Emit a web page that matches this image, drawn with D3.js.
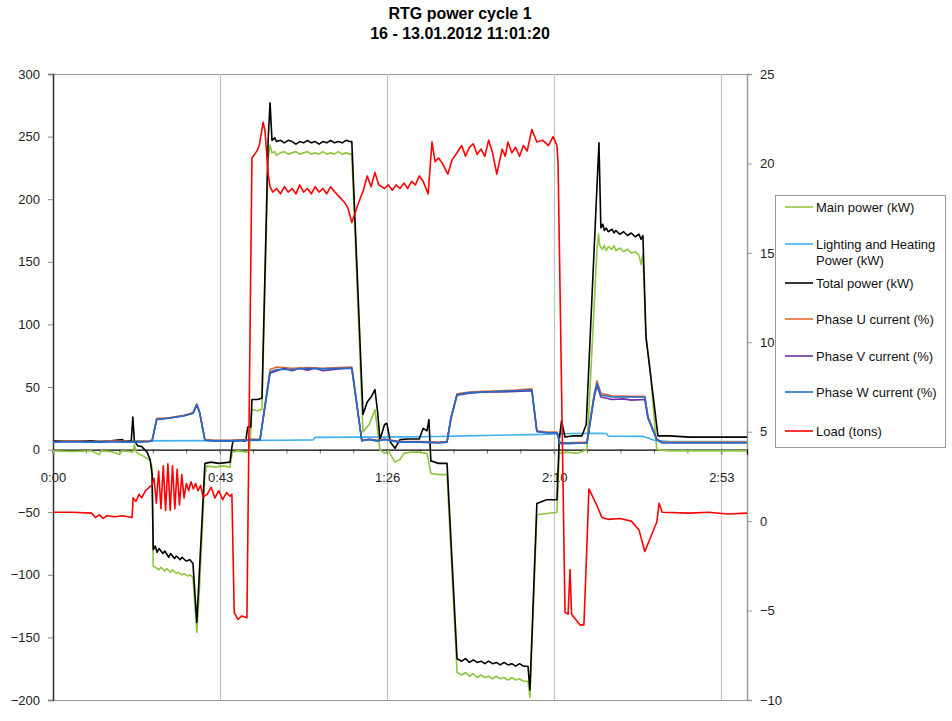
<!DOCTYPE html>
<html>
<head>
<meta charset="utf-8">
<script src="https://cdn.jsdelivr.net/npm/d3@7/dist/d3.min.js"></script>
<style>
	body{margin:0;background:#fff;}
	text{font-family:"Liberation Sans",Arial,sans-serif;}
</style>
</head>
<body>
<div id="chart"></div>
<script>
// time in seconds, values as [t, value]
var xTickValues = [0, 130/3, 260/3, 130, 520/3];
var xTickLabels = ["0:00", "0:43", "1:26", "2:10", "2:53"];
var leftTicks = [300, 250, 200, 150, 100, 50, 0, -50, -100, -150, -200];
var rightTicks = [25, 20, 15, 10, 5, 0, -5, -10];

var mainPower = [[0,-1],[5,-1.5],[10,-1],[12,-4],[12.5,-1],[15,-1.5],[17.3,-4],[17.8,-1],[20,-1.5],[20.7,-2],[21.1,4],[21.6,-2],[22,-3],[23.3,-5],[24.4,-7],[25.2,-9],[25.7,-14],[26,-93],[26.5,-94],[27.5,-96],[28,-94],[29,-97],[29.5,-95],[30.5,-98],[31,-96],[32,-99],[32.5,-98],[33.5,-100],[34,-99],[35,-101],[35.5,-100],[36.3,-102],[37.3,-146],[38,-110],[39.4,-20],[39.9,-13],[42,-14],[44,-13],[45.9,-14],[46.5,-2],[48,-1],[50.3,-2],[51,0],[51.6,32],[53,31],[54.2,32],[55.8,232],[56.3,243],[56.8,237],[57.5,238],[58,235],[59,237],[60,238],[61,236],[62,237],[63,238],[64,236],[65,237],[66,238],[67,236],[68,237],[69,236],[70,238],[71,236],[72,237],[73,236],[74,238],[75,236],[76,237],[77,236],[77.5,236],[80.4,14],[82,20],[83.5,32],[84.8,0],[86,-3],[87,-1],[88.7,-10],[90,-8],[91,-3],[93,-2],[95,-2],[97,-3],[98,-19],[100,-20],[102.2,-20],[104.8,-178],[106,-180],[107,-178],[108,-181],[109,-179],[110,-182],[111,-180],[112,-182],[113,-181],[114,-183],[115,-181],[116,-183],[117,-182],[118,-184],[119,-182],[120,-184],[121,-183],[122,-185],[123.2,-185],[123.7,-198],[125.5,-52],[128,-51],[130.7,-50],[131.3,-3],[133,-2],[136,-3],[137,-2],[138.5,0],[141.1,161],[141.5,172],[141.8,163],[142.5,160],[143,163],[143.5,159],[144,162],[145,160],[145.5,163],[146,159],[147,161],[148,158],[149,160],[150,157],[151,158],[152,155],[152.5,148],[153,156],[153.8,90],[155,60],[156.6,0],[160,-1],[165,-1],[170,-1],[175,-1],[180,-1]];

var lightPower = [[0,7],[20,7],[40,7.2],[60,7.5],[67.5,7.8],[68,9.8],[80,10],[90,10.2],[100,10.5],[107,11],[115,11.5],[125,12],[130,12.5],[135,12.8],[141,13],[143.5,12.8],[144,10.8],[153,10.6],[156,7.5],[160,6.5],[180,6.5]];

var totalPower = [[0,7],[5,6.5],[10,7],[12,6],[15,7],[18,8],[18.5,6.5],[20.3,7],[20.7,26],[21.1,7],[22,3],[23,2.5],[24.4,-2],[25.2,-8],[25.7,-20],[26,-80],[26.5,-77],[27,-82],[27.5,-79],[28.5,-83],[29,-81],[30,-86],[30.5,-83],[31.5,-87],[32,-85],[33,-88],[33.5,-86],[34.5,-89],[35.5,-88],[36.3,-91],[37.3,-138],[39.4,-11],[41,-10],[43,-11],[45.9,-10],[46.4,2],[46.7,7],[48,7.5],[50,7],[50.5,18],[51.3,18],[51.6,40],[53,40],[54.2,41],[55.8,247],[56.3,277],[56.8,247],[57.5,249],[58,246],[59,247],[60,245],[61,247],[62,246],[63,244],[64,246],[65,245],[66,247],[67,245],[68,246],[69,244],[70,246],[71,245],[72,247],[73,245],[74,246],[75,245],[76,247],[77,246],[77.5,246],[80.4,28],[81.5,38],[82.5,42],[83.5,48],[84.2,30],[84.8,8],[86,20],[86.6,21],[87.5,6],[88.7,1],[90,8],[92,8.5],[95,8.5],[96,17],[97,15],[97.5,24],[98,-9],[100,-11],[102.2,-11],[104.8,-167],[106,-169],[107,-167],[108,-170],[109,-168],[110,-170],[111,-169],[112,-171],[113,-169],[114,-171],[115,-170],[116,-172],[117,-170],[118,-172],[119,-171],[120,-173],[121,-171],[122,-173],[123.2,-173],[123.7,-192],[125.5,-43],[128,-40],[130.7,-40],[131.3,8],[131.9,23],[132.8,10],[135,11],[137.2,11],[138.3,20],[141.6,245],[142.1,177],[142.6,180],[143,175],[143.5,177],[144,174],[145,176],[145.5,173],[146,175],[147,172],[148,174],[149,171],[150,173],[151,170],[152,172],[152.5,168],[153,171],[153.8,90],[156.9,11],[160,11],[165,10],[170,10],[175,10],[180,10]];

var phaseU = [[0,6.5],[5,7],[10,6.5],[15,7],[20,6.5],[25,7],[25.7,7.5],[26.9,25],[28,25],[30,25.5],[32,26.5],[34,27.5],[36.3,29.5],[37.3,36.5],[38,30.5],[39.4,8],[42,7.5],[46,7.5],[50,8],[53.7,8.5],[56.3,64],[58,66],[62,65],[66,65.5],[70,65],[74,65.5],[77.5,66],[80.1,7.5],[82,8.5],[84,7.5],[86,8.5],[90,6.5],[95,6.5],[100,6],[102.2,6.5],[103.2,25.5],[104.8,44.5],[108,46],[112,46.5],[116,47],[120,47.5],[124.2,48.5],[125.5,15],[128,14],[130.7,14],[131.5,5.5],[134,5.5],[138.5,6],[140.3,43],[141.1,55],[142.1,45],[145,43],[150,42.5],[153.5,42.5],[154.3,26.5],[156.6,8.5],[158,6],[165,6],[170,6],[180,6]];

var phaseV = [[0,6],[5,6.5],[10,6],[15,6.5],[20,6],[25,6.5],[25.7,7],[26.9,24],[28,24.5],[30,25],[32,26],[34,27],[36.3,29],[37.3,35.5],[38,30],[39.4,7.5],[42,7],[46,7],[50,7.5],[53.7,8],[56.3,61],[58,63],[60,65],[62,63],[64,65],[66,63.5],[68,65],[70,63],[74,64.5],[77.5,65],[80.1,7],[82,8],[84,7],[86,8],[90,6],[95,6],[100,5.5],[102.2,6],[103.2,24.5],[104.8,43.5],[108,45],[112,46],[116,46],[120,46.5],[124.2,47],[125.5,14.5],[128,13.5],[130.7,13.5],[131.5,5],[134,5],[138.5,5.3],[140.3,41],[141.1,51],[142.1,42],[145,40],[148,40.5],[150,39.5],[153.5,40],[154.3,25],[156.6,8],[158,5.5],[165,5.5],[170,5.5],[180,5.5]];

var phaseW = [[0,6],[5,6.5],[10,6],[15,6.5],[20,6],[25,6.5],[25.7,7],[26.9,24],[28,24.5],[30,25],[32,26],[34,27],[36.3,29],[37.3,36],[38,30],[39.4,7.5],[42,7],[46,7],[50,7.5],[53.7,8],[56.3,62],[58,64],[62,64],[66,65],[70,64.5],[74,65],[77.5,65],[80.1,7],[82,8],[84,7],[86,8],[90,6],[95,6],[100,5.5],[102.2,6],[103.2,25],[104.8,44],[108,45.5],[112,46],[116,46.5],[120,47],[124.2,47.5],[125.5,14.5],[128,13.5],[130.7,13.5],[131.5,5],[134,5],[138.5,5.3],[140.3,42],[141.1,53],[142.1,43.6],[145,42],[150,42],[153.5,42],[154.3,26],[156.6,8],[158,5.5],[165,5.5],[170,5.5],[180,5.5]];

var load = [[0,0.5],[5,0.5],[10,0.45],[11,0.2],[12,0.35],[13,0.15],[14,0.3],[16,0.25],[18,0.3],[20.5,0.2],[20.8,1.3],[21.5,1.1],[22.3,1.5],[23,1.3],[24,1.7],[25,1.9],[25.6,2.0],[26.2,2.4],[26.8,1.0],[27.4,2.8],[28,0.7],[28.6,3.1],[29.2,0.6],[29.8,3.2],[30.4,0.6],[31,3.1],[31.6,0.7],[32.2,2.9],[32.8,0.9],[33.4,2.6],[34,1.3],[34.6,2.1],[35.2,1.7],[35.8,2.2],[36.4,1.8],[37,2.1],[37.6,1.7],[38.3,2.0],[38.9,1.35],[40,1.5],[41,1.9],[42,1.3],[43,1.7],[44,1.2],[45,1.6],[45.9,1.4],[46.4,1.5],[47,-5.1],[48,-5.5],[49,-5.3],[50.3,-5.4],[51.6,20.3],[52.9,20.7],[53.5,21],[54.5,22.3],[55,21.8],[55.8,19.4],[56.3,18.7],[57,18.4],[58,18.6],[59,18.3],[60,18.7],[61,18.4],[62,18.6],[63,18.3],[64,18.8],[65,18.4],[66,18.6],[67,18.3],[68,18.7],[69,18.4],[70,18.6],[71,18.3],[72,18.7],[73.1,18.4],[74.4,18.1],[75.7,17.8],[76.5,17.5],[77.5,16.7],[79.1,17.7],[80.5,18.5],[81.5,19.3],[82.5,18.7],[83.5,19.5],[84.5,18.8],[86,18.6],[87,18.8],[88,18.5],[89,18.8],[90,18.6],[91,18.9],[92,18.6],[93,19.0],[94,18.8],[95,19.3],[96,19.0],[97.3,18.3],[98.3,21.2],[99.1,20.1],[100,20.3],[101,20.0],[102.4,19.4],[103.5,20.2],[104.8,20.6],[106,21],[107,20.4],[108,20.9],[109,21.1],[110,20.5],[111,20.8],[112,20.4],[113,21.3],[114,20.6],[115.1,19.4],[116.5,20.8],[117.3,20.4],[118,21.2],[119,20.6],[120,20.9],[121,20.4],[122,21],[123,20.7],[124.2,21.9],[125.5,21.2],[127,21.3],[128.5,21.0],[129.7,21.5],[130.7,21],[131,20],[132.8,-5.1],[133.6,-5.2],[134.1,-2.7],[134.5,-5.2],[136.7,-5.8],[137.7,-5.8],[138.2,-3],[139,1.8],[140.8,1.0],[142.4,0.2],[144,0.1],[147,0.15],[150,0.0],[152,-0.5],[153.5,-1.7],[156.6,-0.05],[157.2,1.0],[158,0.5],[165,0.45],[170,0.5],[175,0.4],[180,0.45]];

var series = [
	{name:"Main power (kW)", data:mainPower, color:"#8dc63f", axis:"left"},
	{name:"Lighting and Heating|Power (kW)", data:lightPower, color:"#3fb1f0", axis:"left"},
	{name:"Total power (kW)", data:totalPower, color:"#000000", axis:"left"},
	{name:"Phase U current (%)", data:phaseU, color:"#e8692a", axis:"left"},
	{name:"Phase V current (%)", data:phaseV, color:"#7030a0", axis:"left"},
	{name:"Phase W current (%)", data:phaseW, color:"#1f6ec8", axis:"left"},
	{name:"Load (tons)", data:load, color:"#ff0000", axis:"right"}
];

var W = 952, H = 721;
var plot = {left:53, right:747, top:74, bottom:700};

var svg = d3.select("#chart").append("svg")
	.attr("width", W).attr("height", H);

var x = d3.scaleLinear().domain([0, 180]).range([plot.left, plot.right]);
var yL = d3.scaleLinear().domain([-200, 300]).range([plot.bottom, plot.top]);
var yR = d3.scaleLinear().domain([-10, 25]).range([plot.bottom, plot.top]);

// title
var title = svg.append("text").attr("text-anchor","middle")
	.style("font-weight","bold").style("font-size","16px").attr("fill","#000");
title.append("tspan").attr("x",460).attr("y",19).text("RTG power cycle 1");
title.append("tspan").attr("x",460).attr("y",39).text("16 - 13.01.2012 11:01:20");

// frame and vertical gridlines
svg.append("line").attr("x1",plot.left).attr("x2",plot.right)
	.attr("y1",plot.top+0.5).attr("y2",plot.top+0.5).attr("stroke","#999");
svg.append("line").attr("x1",plot.left).attr("x2",plot.right)
	.attr("y1",plot.bottom+0.5).attr("y2",plot.bottom+0.5).attr("stroke","#999");
svg.append("g").selectAll("line").data(xTickValues.slice(1)).enter().append("line")
	.attr("x1",function(d){return Math.round(x(d))+0.5;})
	.attr("x2",function(d){return Math.round(x(d))+0.5;})
	.attr("y1",plot.top).attr("y2",plot.bottom)
	.attr("stroke","#c4c4c4").attr("stroke-width",1.2);

// left axis
var gl = svg.append("g").attr("transform","translate("+plot.left+",0)")
	.call(d3.axisLeft(yL).tickValues(leftTicks).tickSize(5).tickPadding(8).tickFormat(d3.format("d")));
gl.select(".domain").attr("stroke","#333").attr("stroke-width",1.5);
gl.selectAll(".tick line").attr("stroke","#888");
gl.selectAll("text").style("font-size","13px").attr("fill","#222");

// right axis
var gr = svg.append("g").attr("transform","translate("+plot.right+",0)")
	.call(d3.axisRight(yR).tickValues(rightTicks).tickSize(5).tickPadding(8).tickFormat(d3.format("d")));
gr.select(".domain").attr("stroke","#999").attr("stroke-width",1.5);
gr.selectAll(".tick line").attr("stroke","#999");
gr.selectAll("text").style("font-size","13px").attr("fill","#222");

// x axis crosses at zero
var minorTicks = d3.range(0, 181, 26/3);
svg.append("g").selectAll("line").data(minorTicks).enter().append("line")
	.attr("x1",function(d){return x(d);}).attr("x2",function(d){return x(d);})
	.attr("y1",yL(0)).attr("y2",yL(0)+4).attr("stroke","#777");
var gx = svg.append("g").attr("transform","translate(0,"+yL(0)+")")
	.call(d3.axisBottom(x).tickValues(xTickValues).tickSize(5).tickPadding(18)
		.tickFormat(function(d,i){return xTickLabels[i];}));
gx.select(".domain").attr("stroke","#000").attr("stroke-width",1.2);
gx.selectAll(".tick line").attr("stroke","#777");
gx.selectAll("text").style("font-size","13px").attr("fill","#222");

// series
var line = d3.line().x(function(d){return x(d[0]);});
var clip = svg.append("clipPath").attr("id","clip").append("rect")
	.attr("x",plot.left).attr("y",plot.top).attr("width",plot.right-plot.left).attr("height",plot.bottom-plot.top);
var gs = svg.append("g").attr("clip-path","url(#clip)");
series.forEach(function(s){
	var ys = s.axis == "right" ? yR : yL;
	line.y(function(d){return ys(d[1]);});
	gs.append("path").datum(s.data)
		.attr("d", line)
		.attr("fill","none")
		.attr("stroke", s.color)
		.attr("stroke-width", 1.6)
		.attr("stroke-linejoin","round");
});

// legend
var legY = [207, 244, 283, 319, 356, 392, 431];
var leg = svg.append("g");
leg.append("rect").attr("x",775.5).attr("y",195.5).attr("width",170).attr("height",252)
	.attr("fill","#fff").attr("stroke","#999");
series.forEach(function(s,i){
	leg.append("line").attr("x1",785).attr("x2",813)
		.attr("y1",legY[i]).attr("y2",legY[i])
		.attr("stroke",s.color).attr("stroke-width",1.6);
	var parts = s.name.split("|");
	var t = leg.append("text").attr("x",816).attr("y",legY[i]+4.5)
		.style("font-size","13px").attr("fill","#111");
	parts.forEach(function(p,j){
		t.append("tspan").attr("x",816).attr("dy", j ? 16 : 0).text(p);
	});
});
</script>
</body>
</html>
